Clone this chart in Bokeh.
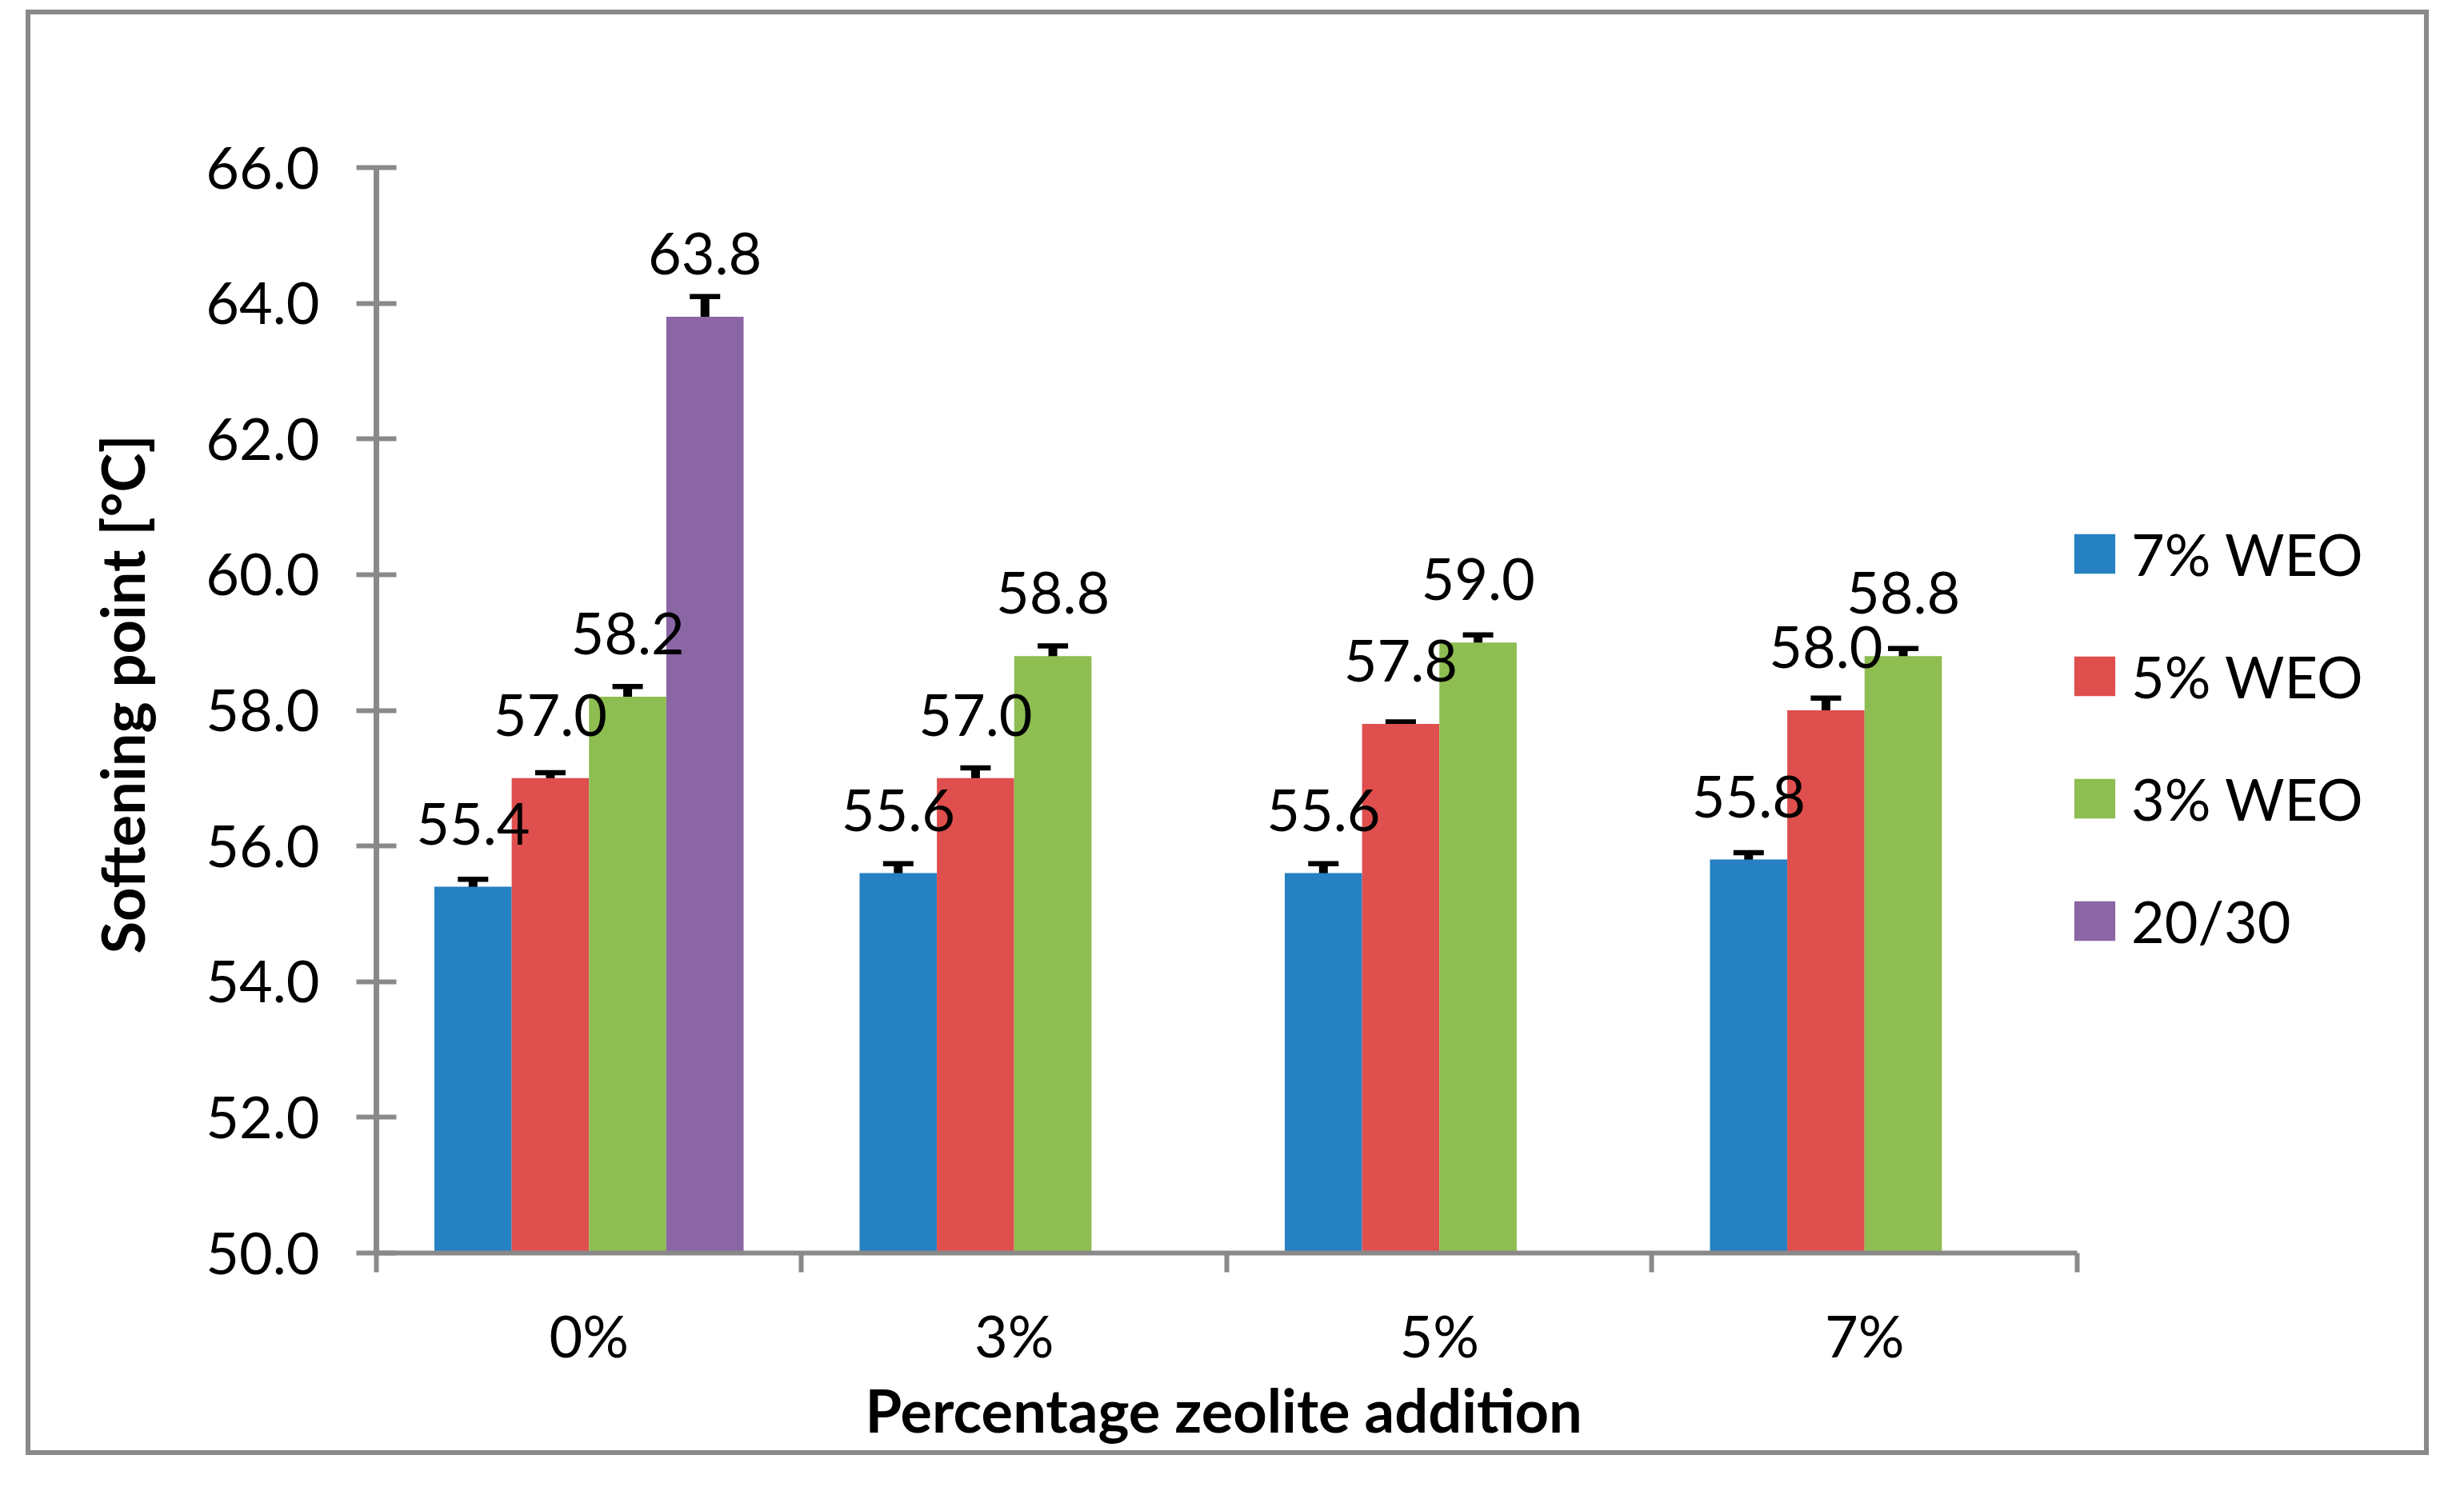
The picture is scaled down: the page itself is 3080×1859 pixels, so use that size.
from bokeh.plotting import figure
from bokeh.models import (Range1d, FixedTicker, NumeralTickFormatter, ColumnDataSource,
                          LabelSet, Whisker, TeeHead, Legend, LegendItem, Title)
from bokeh.core.properties import value
from bokeh.embed import file_html
from bokeh.resources import INLINE

# ---------------- data ----------------
categories = ["0%", "3%", "5%", "7%"]
series_names = ["7% WEO", "5% WEO", "3% WEO", "20/30"]
weo7 = [55.4, 55.6, 55.6, 55.8]
weo5 = [57.0, 57.0, 57.8, 58.0]
weo3 = [58.2, 58.8, 59.0, 58.8]
bin2030 = [63.8]               # only measured for 0% zeolite
weo7_err = [0.11, 0.14, 0.14, 0.10]
weo5_err = [0.08, 0.15, 0.03, 0.18]
weo3_err = [0.15, 0.15, 0.11, 0.11]
bin2030_err = [0.30]
y_ticks = [50, 52, 54, 56, 58, 60, 62, 64, 66]
colors = ["#2581C1", "#DE4F4E", "#8EBD51", "#8B66A5"]
x_title = "Percentage zeolite addition"
y_title = "Softening point [°C]"

FONT = "Lato"
GRAY = "#898989"

# frame is widened to the right so that the legend fits inside it
p = figure(width=3004, height=1807,
           x_range=Range1d(0, 4.779), y_range=Range1d(50, 66),
           output_backend="svg", toolbar_location=None,
           min_border_left=432, min_border_right=32,
           min_border_top=191, min_border_bottom=259,
           styles={"border": "6px solid #898989", "margin-left": "32px", "margin-top": "12px"})
p.background_fill_color = "white"
p.border_fill_color = "white"
p.outline_line_color = None
p.xgrid.grid_line_color = None
p.ygrid.grid_line_color = None

slot = 1 / 5.5
all_vals = [weo7, weo5, weo3, bin2030]
all_errs = [weo7_err, weo5_err, weo3_err, bin2030_err]
renderers = []
for j, (vals, errs) in enumerate(zip(all_vals, all_errs)):
    xs = [i + 0.5 + (j - 1.5) * slot for i in range(len(vals))]
    src = ColumnDataSource(dict(
        x=xs, top=vals,
        upper=[v + e for v, e in zip(vals, errs)],
        lower=[v - e for v, e in zip(vals, errs)],
        label=[f"{v:.1f}" for v in vals]))
    r = p.vbar(x="x", top="top", bottom=50, width=slot, source=src,
               fill_color=colors[j], line_color=None)
    renderers.append(r)
    w = Whisker(source=src, base="x", upper="upper", lower="lower",
                line_color="black", line_width=11,
                upper_head=TeeHead(size=38, line_width=6.5, line_color="black"),
                lower_head=TeeHead(size=38, line_width=6.5, line_color="black"))
    p.add_layout(w)
    lbl = LabelSet(source=src, x="x", y="top", text="label", y_offset=53,
                   text_align="center", text_baseline="alphabetic",
                   text_font=value(FONT), text_font_size=value("72px"), text_color="black")
    p.add_layout(lbl)

# y axis
ya = p.yaxis[0]
ya.ticker = FixedTicker(ticks=y_ticks)
ya.formatter = NumeralTickFormatter(format="0.0")
ya.axis_line_color = GRAY
ya.axis_line_width = 7
ya.major_tick_line_color = GRAY
ya.major_tick_line_width = 6
ya.major_tick_in = 25
ya.major_tick_out = 25
ya.minor_tick_line_color = None
ya.major_label_standoff = 46
ya.major_label_text_font = FONT
ya.major_label_text_font_size = "72px"
ya.major_label_text_color = "black"

# x axis (only spans the four categories)
xa = p.xaxis[0]
xa.bounds = (0, len(categories))
xa.ticker = FixedTicker(ticks=[i + 0.5 for i in range(len(categories))],
                        minor_ticks=list(range(len(categories) + 1)))
xa.major_label_overrides = {i + 0.5: c for i, c in enumerate(categories)}
xa.axis_line_color = GRAY
xa.axis_line_width = 6
xa.major_tick_line_color = None
xa.major_tick_in = 0
xa.major_tick_out = 0
xa.minor_tick_line_color = GRAY
xa.minor_tick_line_width = 6
xa.minor_tick_in = 0
xa.minor_tick_out = 24
xa.major_label_standoff = 35
xa.major_label_text_font = FONT
xa.major_label_text_font_size = "72px"
xa.major_label_text_color = "black"

# axis titles (side-panel titles, shifted so they are centred on the axes)
p.add_layout(Title(text=x_title, align="left", offset=611, standoff=2,
                   text_font=FONT, text_font_style="bold", text_font_size="74px",
                   text_color="black"), "below")
p.add_layout(Title(text=y_title, align="left", offset=374, standoff=115,
                   text_font=FONT, text_font_style="bold", text_font_size="74px",
                   text_color="black"), "left")

legend = Legend(items=[LegendItem(label=n, renderers=[r]) for n, r in zip(series_names, renderers)],
                location=(2116, 372), orientation="vertical",
                glyph_width=64, glyph_height=62, label_standoff=14, spacing=67,
                padding=0, margin=0, border_line_color=None, background_fill_alpha=0,
                label_text_font=FONT, label_text_font_size="72px", label_text_color="black")
p.add_layout(legend)

open("out.html", "w").write(file_html(p, INLINE))
